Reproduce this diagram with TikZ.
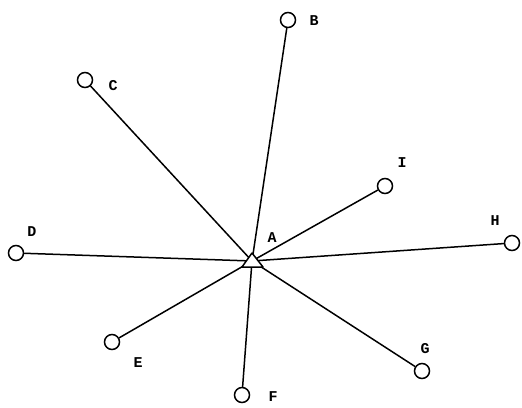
\documentclass[tikz,border=0pt]{standalone}
\usepackage{fontspec}
\setmonofont{Liberation Mono}
\usetikzlibrary{calc}
\begin{document}
\begin{tikzpicture}[x=1pt,y=-1pt,
  leaf/.style={circle,draw,line width=1.5pt,fill=white,minimum size=15pt,inner sep=0pt},
  lbl/.style={font=\ttfamily\bfseries\fontsize{15}{15}\selectfont,inner sep=0pt},
  spoke/.style={line width=1.5pt}]
\useasboundingbox (0,0) rectangle (522,407);
\coordinate (A) at (252,261);
\node[leaf] (B) at (288,20) {};
\node[leaf] (C) at (85,80) {};
\node[leaf] (I) at (385,186) {};
\node[leaf] (D) at (16,253) {};
\node[leaf] (H) at (512,243) {};
\node[leaf] (E) at (112,342) {};
\node[leaf] (F) at (242,395) {};
\node[leaf] (G) at (422,371) {};
\foreach \n in {B,C,I,D,H,E,F,G} \draw[spoke] (A) -- (\n);
\draw[line width=1.5pt,fill=white,line join=round] ($(A)+(-10,6)$) -- ($(A)+(0,-8)$) -- ($(A)+(11,6)$) -- cycle;
\node[lbl] (lA) at (272,238) {A};
\node[lbl] (lB) at (314,21) {B};
\node[lbl] (lC) at (113,86) {C};
\node[lbl] (lI) at (402,163) {I};
\node[lbl] (lD) at (32,232) {D};
\node[lbl] (lH) at (495,221) {H};
\node[lbl] (lE) at (138,363) {E};
\node[lbl] (lF) at (273,397) {F};
\node[lbl] (lG) at (425,349) {G};
\end{tikzpicture}
\end{document}
